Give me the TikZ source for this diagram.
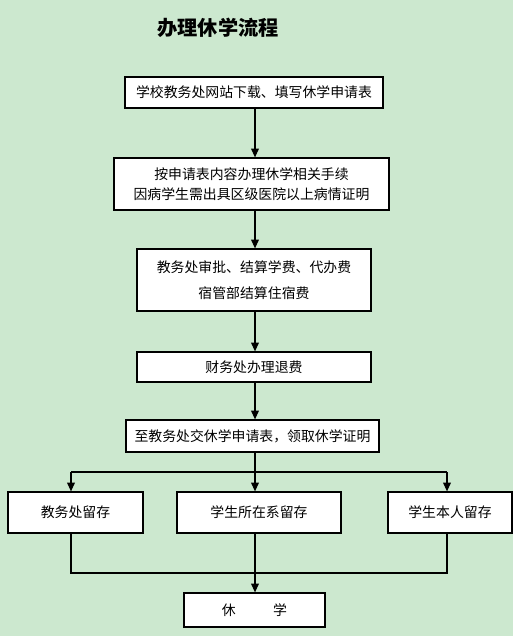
\documentclass[tikz,border=0pt]{standalone}
\usepackage{fontspec}
\usepackage{tikz}
\usetikzlibrary{arrows.meta}
\newfontfamily\cjk{Noto Sans CJK SC}
\definecolor{bggreen}{RGB}{204,232,207}
\tikzset{
  stepbox/.style={draw=black,fill=white,line width=0.7pt,inner sep=0pt,align=center,
    font=\cjk\fontsize{7.9}{11.3}\selectfont},
  flow/.style={line width=0.7pt,-{Triangle[length=5pt,width=4.4pt]}},
  link/.style={line width=0.7pt},
  ttl/.style={font=\cjk\bfseries\fontsize{11.5}{14}\selectfont},
}
\begin{document}
\begin{tikzpicture}[x=0.02cm,y=-0.02cm]
  \fill[bggreen] (0,0) rectangle (513,636);
  \useasboundingbox (0,0) rectangle (513,636);
  \node[ttl] (title) at (218,28) {办理休学流程};
  \node[stepbox,minimum width=5.16cm,minimum height=0.62cm] (s1) at (254,92.5) {学校教务处网站下载、填写休学申请表};
  \node[stepbox,minimum width=5.5cm,minimum height=1.04cm] (s2) at (251.5,184) {按申请表内容办理休学相关手续\\因病学生需出具区级医院以上病情证明};
  \node[stepbox,minimum width=4.68cm,minimum height=1.24cm] (s3) at (254,280) {教务处审批、结算学费、代办费\\[3.4pt]宿管部结算住宿费};
  \node[stepbox,minimum width=4.68cm,minimum height=0.6cm] (s4) at (254,367) {财务处办理退费};
  \node[stepbox,minimum width=5.06cm,minimum height=0.64cm] (s5) at (252.5,436) {至教务处交休学申请表，领取休学证明};
  \node[stepbox,minimum width=2.7cm,minimum height=0.82cm] (ka) at (75.5,512.5) {教务处留存};
  \node[stepbox,minimum width=3.28cm,minimum height=0.82cm] (kb) at (259,512.5) {学生所在系留存};
  \node[stepbox,minimum width=2.48cm,minimum height=0.82cm] (kc) at (450,512.5) {学生本人留存};
  \node[stepbox,minimum width=2.82cm,minimum height=0.68cm] (fin) at (254.5,610) {休\hspace{2.7em}学};
  % main line
  \draw[flow] (s1.south -| 255,0) -- (s2.north -| 255,0);
  \draw[flow] (s2.south -| 255,0) -- (s3.north -| 255,0);
  \draw[flow] (s3.south -| 255,0) -- (s4.north -| 255,0);
  \draw[flow] (s4.south -| 255,0) -- (s5.north -| 255,0);
  % split into three copies
  \coordinate (split) at (255,472);
  \coordinate (sa) at (71,472);
  \coordinate (sc) at (447,472);
  \draw[link] (s5.south -| split) -- (split);
  \draw[link] (sa) -- (sc);
  \draw[flow] (sa) -- (sa |- ka.north);
  \draw[flow] (split) -- (split |- kb.north);
  \draw[flow] (sc) -- (sc |- kc.north);
  % join
  \coordinate (join) at (255,573);
  \draw[link] (ka.south -| sa) |- (join);
  \draw[link] (kc.south -| sc) |- (join);
  \draw[flow] (kb.south -| join) -- (fin.north -| join);
\end{tikzpicture}
\end{document}
